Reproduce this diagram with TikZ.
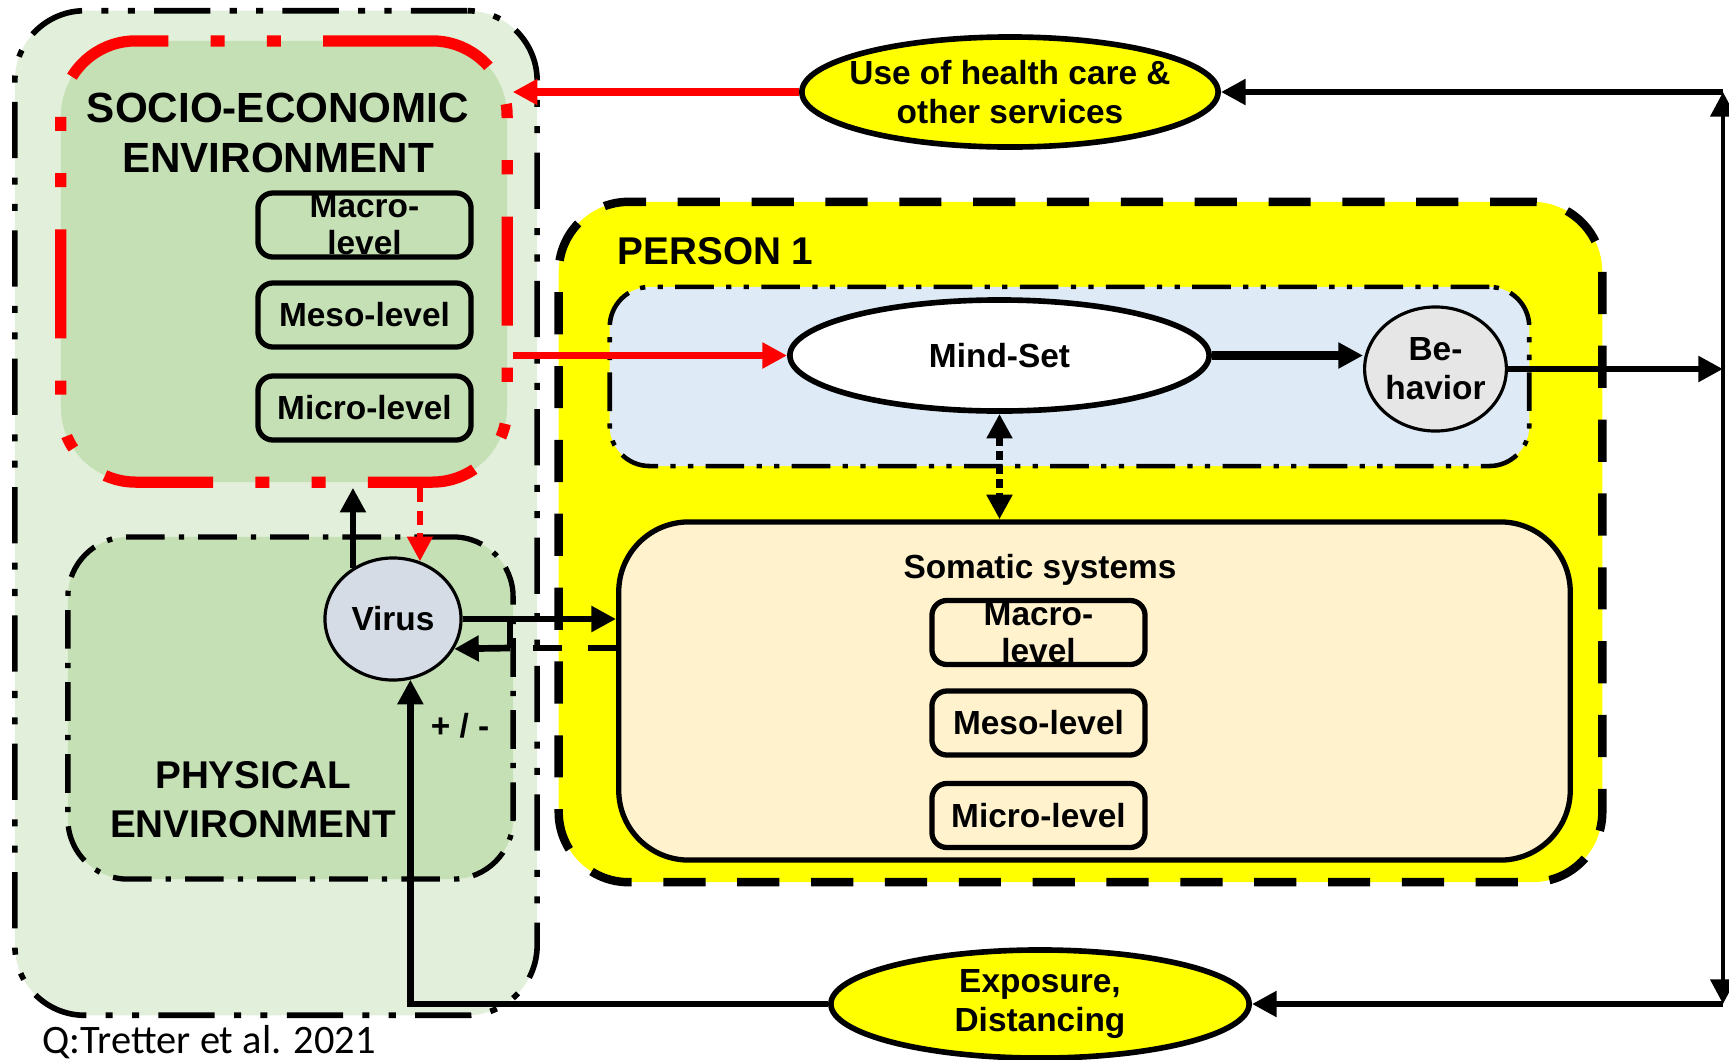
\documentclass[tikz,border=0pt]{standalone}
\usepackage{fontspec}
\setmainfont{Liberation Sans}
\newfontfamily\citefont{Carlito}
\usetikzlibrary{arrows.meta,shapes.geometric}

\definecolor{envouter}{HTML}{E2EFDA}
\definecolor{envinner}{HTML}{C5E0B4}
\definecolor{mindblue}{HTML}{DEEBF7}
\definecolor{somabeige}{HTML}{FFF2CC}
\definecolor{virusgray}{HTML}{D6DCE5}
\definecolor{behavgray}{HTML}{E7E6E6}
\definecolor{hiyellow}{RGB}{255,255,0}
\definecolor{hired}{RGB}{255,0,0}

\begin{document}
\begin{tikzpicture}
[
   x=0.01cm, y=-0.01cm,
   every node/.style={inner sep=0pt, align=center, font=\bfseries\fontsize{9.5}{11}\selectfont},
   envbox/.style={rectangle, draw, line width=1.5pt, rounded corners=0.7cm},
   levelbox/.style={rectangle, draw, line width=1.5pt, rounded corners=0.15cm,
      minimum width=2.13cm, minimum height=0.64cm, font=\bfseries\fontsize{9.5}{10.6}\selectfont},
   oval/.style={ellipse, draw, line width=1.6pt},
   arr/.style={-{Triangle[length=7pt,width=7pt]}, line width=1.9pt},
   redarr/.style={arr, hired, line width=2pt}
]
\useasboundingbox (0,0) rectangle (1729,1060);

\node[envbox, fill=envouter, line width=1.6pt, dash pattern=on 16pt off 5.5pt on 2pt off 5.5pt on 2pt off 5.5pt,
   minimum width=5.22cm, minimum height=10.04cm] (outer) at (276,513) {};
\node[envbox, fill=envinner, draw=hired, line width=3.2pt, rounded corners=0.75cm,
   dash pattern=on 31pt off 12pt on 4pt off 12pt on 4pt off 12pt,
   minimum width=4.46cm, minimum height=4.41cm] (socio) at (284,261.5) {};
\node[font=\bfseries\fontsize{12}{14.2}\selectfont] (sociotitle) at (278,133) {SOCIO-ECONOMIC\\ENVIRONMENT};
\node[levelbox] (smacro) at (364.5,225) {Macro-\\level};
\node[levelbox] (smeso) at (364.5,315) {Meso-level};
\node[levelbox] (smicro) at (364.5,408) {Micro-level};

\node[envbox, fill=envinner, rounded corners=0.6cm, dash pattern=on 11pt off 4pt on 1.5pt off 4pt,
   minimum width=4.45cm, minimum height=3.42cm] (physical) at (290.5,708) {};
\node[font=\bfseries\fontsize{11}{13.9}\selectfont] (phystitle) at (253,800) {PHYSICAL\\ENVIRONMENT};
\node[oval, fill=virusgray, line width=0.9pt, minimum width=1.36cm, minimum height=1.22cm] (virus) at (393,619) {Virus};
\node (sign) at (460,726) {+ / -};

\node[envbox, fill=hiyellow, line width=2.4pt, dash pattern=on 12pt off 9pt,
   minimum width=10.43cm, minimum height=6.8cm] (person) at (1080.5,542) {};
\node[anchor=west, font=\bfseries\fontsize{11}{13}\selectfont] (persontitle) at (617,251) {PERSON 1};
\node[envbox, fill=mindblue, line width=1.3pt, rounded corners=0.4cm,
   dash pattern=on 11pt off 3.5pt on 1.5pt off 3.5pt on 1.5pt off 3.5pt,
   minimum width=9.19cm, minimum height=1.79cm] (mind) at (1069.5,376.5) {};
\node[oval, fill=white, minimum width=4.19cm, minimum height=1.11cm] (mindset) at (999.5,355.5) {Mind-Set};
\node[oval, fill=behavgray, line width=0.9pt, minimum width=1.37cm, minimum height=1.24cm] (behavior) at (1435.5,369) {Be-\\havior};

\node[envbox, fill=somabeige, minimum width=9.51cm, minimum height=3.38cm] (somatic) at (1094.5,691) {};
\node (somatictitle) at (1040,570) {Somatic systems};
\node[levelbox] (bmacro) at (1038.5,632.5) {Macro-\\level};
\node[levelbox] (bmeso) at (1038.5,723) {Meso-level};
\node[levelbox] (bmicro) at (1038.5,815.5) {Micro-level};

\node[oval, fill=hiyellow, inner xsep=-6pt, minimum width=4.16cm, minimum height=1.1cm] (health) at (1010,92) {Use of health care \&\\other services};
\node[oval, fill=hiyellow, minimum width=4.18cm, minimum height=1.08cm] (exposure) at (1040,1004) {Exposure,\\Distancing};

\coordinate (rtop) at (1723,92);
\coordinate (rbot) at (1723,1004);
\coordinate (ret) at (510,648);
\coordinate (retgap) at (533,648);

\draw[redarr] (health.west) -- (health.west -| socio.east);
\draw[redarr] (mindset.west -| socio.east) -- (mindset.west);
\draw[redarr, line width=1.6pt, dash pattern=on 4pt off 2.5pt] (virus.65 |- socio.south) -- (virus.65);
\draw[arr] (virus.128) -- (virus.128 |- socio.south);
\draw[arr] (virus.east) -- (virus.east -| somatic.west);
\draw[line width=1.9pt, dash pattern=on 8pt off 7.5pt] (somatic.west |- ret) -- (retgap);
\draw[line width=1.9pt] (ret) -- (ret |- virus.east);
\draw[arr] (ret) -- (virus.-26);
\draw[arr] (exposure.west) -| (virus.-74);
\draw[arr, line width=2.4pt] (mindset.east) -- (mindset.east -| behavior.west);
\draw[{Triangle[length=7pt,width=7pt]}-{Triangle[length=7pt,width=7pt]}, line width=1.9pt,
   dash pattern=on 2.5pt off 1.5pt] (mindset.south) -- (mindset.south |- somatic.north);
\draw[arr] (behavior.east) -- (behavior.east -| rtop);
\draw[arr, line width=1.4pt] (behavior.east -| rtop) -- (rtop);
\draw[arr, line width=1.4pt] (behavior.east -| rtop) -- (rbot);
\draw[arr] (rtop) -- (health.east);
\draw[arr] (rbot) -- (exposure.east);

\node[anchor=west, font=\citefont\fontsize{11.5}{13}\selectfont] (cite) at (42,1042) {Q:Tretter et al. 2021};
\end{tikzpicture}
\end{document}
